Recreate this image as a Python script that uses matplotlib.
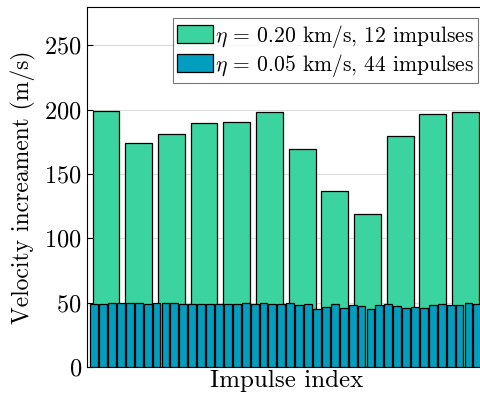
import numpy as np
import matplotlib
matplotlib.use("Agg")
import matplotlib.pyplot as plt

plt.rcParams["font.family"] = "cmr10"
plt.rcParams["mathtext.fontset"] = "cm"
plt.rcParams["axes.formatter.use_mathtext"] = True

# data
green_vals = [199, 174.5, 181.5, 190, 190.3, 198.5, 169.5, 137, 119, 179.7, 196.5, 198.5]
blue_vals = [49.4, 49.2, 49.9, 49.9, 49.9, 49.9, 49.2, 49.9, 49.7, 49.7, 49.4,
             49.2, 49.2, 49.2, 48.9, 49.2, 49.2, 49.9, 49.2, 49.9, 49.2, 49.2,
             49.9, 47.9, 49.2, 45.3, 46.8, 49.4, 46.0, 48.4, 47.3, 45.3, 48.6,
             49.4, 47.6, 45.8, 46.8, 46.3, 47.9, 49.4, 48.6, 48.6, 49.9, 49.4]
green_label = r"$\eta$ = 0.20 km/s, 12 impulses"
blue_label = r"$\eta$ = 0.05 km/s, 44 impulses"
yticks = [0, 50, 100, 150, 200, 250]

green_col = "#3bd4a0"
blue_col = "#029ebf"

fig = plt.figure(figsize=(4.8, 3.99), dpi=100)
ax = fig.add_axes([0.182, 0.08, 0.83, 0.903])

ng = len(green_vals)
nb = len(blue_vals)
xg = (np.arange(ng) + 0.5) / ng
xb = (np.arange(nb) + 0.5) / nb

ax.bar(xg, green_vals, width=0.82 / ng, color=green_col, edgecolor="black",
       linewidth=0.9, label=green_label, zorder=2)
ax.bar(xb, blue_vals, width=0.88 / nb, color=blue_col, edgecolor="black",
       linewidth=0.9, label=blue_label, zorder=3)

ax.set_xlim(-0.006, 1.01)
ax.set_ylim(0, 280)
ax.set_yticks(yticks)
ax.set_xticks([])
ax.tick_params(axis="y", direction="in", length=4, labelsize=17.5, pad=4)
ax.yaxis.grid(True, color="#dcdcdc", linewidth=0.8, zorder=0)
ax.set_axisbelow(True)

ax.set_xlabel("Impulse index", fontsize=18, labelpad=2)
ax.set_ylabel("Velocity increament (m/s)", fontsize=17, labelpad=6)

leg = ax.legend(loc="upper right", bbox_to_anchor=(0.981, 0.968), fontsize=15.5,
                frameon=True, fancybox=False, edgecolor="#555555",
                borderpad=0.2, labelspacing=0.1, handlelength=1.65,
                handleheight=0.9, handletextpad=0.1, borderaxespad=0)
leg.get_frame().set_linewidth(0.8)

fig.savefig("out.png", dpi=100)
